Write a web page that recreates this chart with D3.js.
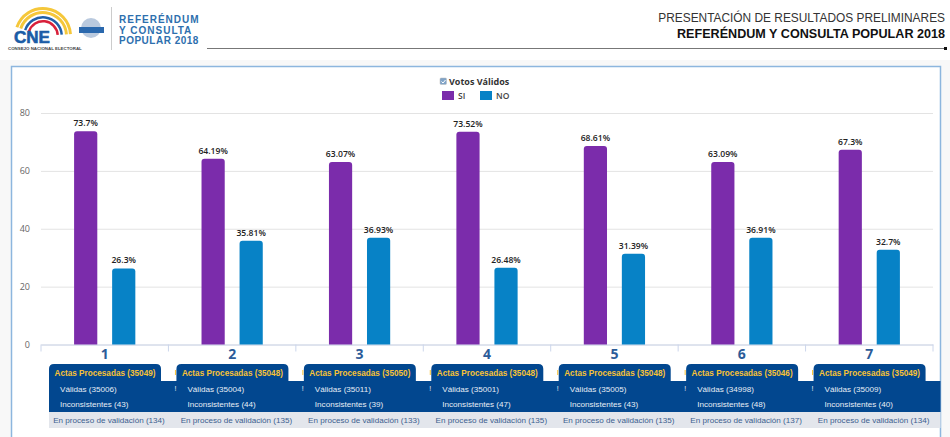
<!DOCTYPE html>
<html lang="es">
<head>
<meta charset="UTF-8">
<title>Referéndum y Consulta Popular 2018</title>
<script src="https://d3js.org/d3.v7.min.js"></script>
<style>
  html, body { margin: 0; padding: 0; background: #fff; }
  svg { display: block; font-family: "Open Sans", "DejaVu Sans", sans-serif; }
</style>
</head>
<body>
<svg width="950" height="437"></svg>
<script>
// data
var questions = ["1", "2", "3", "4", "5", "6", "7"];
var seriesNames = ["SI", "NO"];
var siValues = [73.7, 64.19, 63.07, 73.52, 68.61, 63.09, 67.3];
var noValues = [26.3, 35.81, 36.93, 26.48, 31.39, 36.91, 32.7];
var actasProcesadas = [35049, 35048, 35050, 35048, 35048, 35046, 35049];
var validas = [35006, 35004, 35011, 35001, 35005, 34998, 35009];
var inconsistentes = [43, 44, 39, 47, 43, 48, 40];
var enValidacion = [134, 135, 133, 135, 135, 137, 134];
var yTicks = [0, 20, 40, 60, 80];

var colors = { SI: "#7b2cab", NO: "#0782c6" };
var navy = "#02478f";

var svg = d3.select("svg");

// page background and panel
svg.append("rect").attr("x", 0).attr("y", 60).attr("width", 950).attr("height", 377).attr("fill", "#f8f8f8");
svg.append("rect").attr("x", 11).attr("y", 66).attr("width", 930).attr("height", 371).attr("fill", "#fff");
svg.append("path").attr("d", "M11.5,437V66.5H940.5V437").attr("fill", "none").attr("stroke", "#8db6de").attr("stroke-width", 1.5);

// header, right side
svg.append("text").attr("x", 945).attr("y", 22).attr("text-anchor", "end")
  .attr("font-family", "Liberation Sans, sans-serif").attr("font-size", 11.9).attr("fill", "#333")
  .text("PRESENTACIÓN DE RESULTADOS PRELIMINARES");
svg.append("text").attr("x", 945).attr("y", 38).attr("text-anchor", "end")
  .attr("font-family", "Liberation Sans, sans-serif").attr("font-size", 12.6).attr("font-weight", "bold").attr("fill", "#111")
  .text("REFERÉNDUM Y CONSULTA POPULAR 2018");
svg.append("line").attr("x1", 207).attr("x2", 946).attr("y1", 48.5).attr("y2", 48.5).attr("stroke", "#777").attr("stroke-width", 1);
svg.append("rect").attr("x", 944).attr("y", 47).attr("width", 3).attr("height", 3).attr("fill", "#111");

// header, logo
var logo = svg.append("g");
var arcGen = d3.arc().startAngle(-1.25).endAngle(1.5);
[[29, 3, "#f5c73a"], [25, 3, "#f5c73a"], [20, 2.5, "#1f5fa8"], [16, 2.5, "#d8203a"]].forEach(function(a) {
  logo.append("path")
    .attr("transform", "translate(43,36)")
    .attr("d", arcGen({ innerRadius: a[0] - a[1], outerRadius: a[0] }))
    .attr("fill", a[2]);
});
logo.append("text").attr("x", 14).attr("y", 43).attr("font-family", "Liberation Sans, sans-serif").attr("font-weight", "bold")
  .attr("font-size", 17).attr("fill", "#1a5ca6").attr("stroke", "#1a5ca6").attr("stroke-width", 0.6).text("CNE");
logo.append("text").attr("x", 8).attr("y", 50).attr("font-family", "Liberation Sans, sans-serif").attr("font-weight", "bold")
  .attr("font-size", 4.4).attr("fill", "#444").text("CONSEJO NACIONAL ELECTORAL");
logo.append("circle").attr("cx", 91).attr("cy", 28).attr("r", 10).attr("fill", "#b9c9de");
logo.append("rect").attr("x", 79).attr("y", 27).attr("width", 25).attr("height", 6).attr("fill", "#2a68ad");
logo.append("line").attr("x1", 111.5).attr("x2", 111.5).attr("y1", 7).attr("y2", 50).attr("stroke", "#ccc");
["REFERÉNDUM", "Y CONSULTA", "POPULAR 2018"].forEach(function(t, i) {
  logo.append("text").attr("x", 119).attr("y", 23 + i * 10.5)
    .attr("font-family", "Liberation Sans, sans-serif").attr("font-weight", "bold")
    .attr("font-size", 10).attr("letter-spacing", i == 2 ? 0.5 : 1).attr("fill", "#2d6fae").text(t);
});

// scales
var margin = { top: 113, left: 41, right: 17, bottom: 92.5 };
var x0 = d3.scaleBand().domain(questions).range([margin.left, 950 - margin.right]);
var x1 = d3.scaleBand().domain(seriesNames).range([0, x0.bandwidth()]).paddingInner(0.39).paddingOuter(0.87);
var y = d3.scaleLinear().domain([0, 80]).range([437 - margin.bottom, margin.top]);

// y axis with grid
var yAxis = svg.append("g").attr("transform", "translate(" + margin.left + ",0)")
  .call(d3.axisLeft(y).tickValues(yTicks).tickSize(-(950 - margin.left - margin.right)).tickPadding(11));
yAxis.select(".domain").remove();
yAxis.selectAll("line").attr("stroke", "#e3e3e3");
yAxis.selectAll("text").attr("font-size", 9).attr("fill", "#666").attr("font-family", "Open Sans, sans-serif");

// x axis
var xAxis = svg.append("g").attr("transform", "translate(0," + y(0) + ")")
  .call(d3.axisBottom(x0).tickSize(0).tickPadding(5));
xAxis.select(".domain").attr("stroke", "#ccd6eb");
xAxis.selectAll("text").attr("font-size", 14).attr("font-weight", "bold").attr("fill", "#2c5c99")
  .attr("font-family", "Open Sans, sans-serif");
var edges = questions.map(function(q) { return x0(q); }).concat([x0.range()[1]]);
xAxis.selectAll(".edge").data(edges).enter().append("line").attr("class", "edge")
  .attr("x1", function(d) { return d; }).attr("x2", function(d) { return d; })
  .attr("y1", 0).attr("y2", 7).attr("stroke", "#ccd6eb");

// bars
var groups = svg.selectAll(".q").data(questions).enter().append("g").attr("class", "q")
  .attr("transform", function(d) { return "translate(" + x0(d) + ",0)"; });

function seriesRows(i) {
  return [{ name: "SI", value: siValues[i] }, { name: "NO", value: noValues[i] }];
}

groups.selectAll("path").data(function(d, i) { return seriesRows(i); }).enter().append("path")
  .attr("d", function(d) {
    var l = x1(d.name), r = l + x1.bandwidth(), t = y(d.value), b = y(0), c = 3;
    return "M" + l + "," + b + "V" + (t + c) + "Q" + l + "," + t + " " + (l + c) + "," + t
      + "H" + (r - c) + "Q" + r + "," + t + " " + r + "," + (t + c) + "V" + b + "Z";
  })
  .attr("fill", function(d) { return colors[d.name]; });

groups.selectAll("text").data(function(d, i) { return seriesRows(i); }).enter().append("text")
  .attr("x", function(d) { return x1(d.name) + x1.bandwidth() / 2; })
  .attr("y", function(d) { return y(d.value) - 5; })
  .attr("text-anchor", "middle")
  .attr("font-size", 8.6).attr("font-weight", "600").attr("fill", "#222")
  .text(function(d) { return d.value + "%"; });

// legend
svg.append("rect").attr("x", 440).attr("y", 78).attr("width", 6.5).attr("height", 6.5).attr("rx", 1)
  .attr("fill", "#7fa3c7").attr("stroke", "#bbb").attr("stroke-width", 0.5);
svg.append("path").attr("d", "M441.5,81.5l1.5,1.5l2.5,-3").attr("fill", "none").attr("stroke", "#fff").attr("stroke-width", 1);
svg.append("text").attr("x", 449).attr("y", 85).attr("font-size", 9).attr("font-weight", "bold").attr("fill", "#333").text("Votos Válidos");
var legendX = { SI: 442, NO: 480 };
seriesNames.forEach(function(s) {
  svg.append("rect").attr("x", legendX[s]).attr("y", 91).attr("width", 12).attr("height", 9).attr("fill", colors[s]);
  svg.append("text").attr("x", legendX[s] + 16).attr("y", 99).attr("font-size", 8.5).attr("font-weight", "600").attr("fill", "#444").text(s);
});

// table under the chart
svg.append("rect").attr("x", 49).attr("y", 381).attr("width", 891.5).attr("height", 31).attr("fill", navy);
svg.append("rect").attr("x", 49).attr("y", 412).attr("width", 891.5).attr("height", 16).attr("fill", "#e3e6ec");

var cells = svg.selectAll(".cell").data(questions).enter().append("g").attr("class", "cell")
  .attr("transform", function(d) { return "translate(" + x0(d) + ",0)"; });

cells.append("path")
  .attr("d", "M8,382V369Q8,364 13,364H115Q120,364 120,369V382Z")
  .attr("fill", navy);
cells.append("text").attr("x", 64).attr("y", 375.8).attr("text-anchor", "middle")
  .attr("font-family", "Liberation Sans, sans-serif").attr("font-size", 8.2).attr("font-weight", "bold").attr("fill", "#f7c236")
  .text(function(d, i) { return "Actas Procesadas (" + actasProcesadas[i] + ")"; });
cells.append("text").attr("x", 19).attr("y", 391.5)
  .attr("font-family", "Liberation Sans, sans-serif").attr("font-size", 8.1).attr("fill", "#e6edf5")
  .text(function(d, i) { return "Válidas (" + validas[i] + ")"; });
cells.append("text").attr("x", 19).attr("y", 407)
  .attr("font-family", "Liberation Sans, sans-serif").attr("font-size", 8.1).attr("fill", "#e6edf5")
  .text(function(d, i) { return "Inconsistentes (" + inconsistentes[i] + ")"; });
cells.append("text").attr("x", 68).attr("y", 423).attr("text-anchor", "middle")
  .attr("font-family", "Liberation Sans, sans-serif").attr("font-size", 8.1).attr("fill", "#3d5f8f")
  .text(function(d, i) { return "En proceso de validación (" + enValidacion[i] + ")"; });

// small separators left over between the cells
cells.filter(function(d, i) { return i > 0; }).append("text").attr("x", 7).attr("y", 391).attr("text-anchor", "middle")
  .attr("font-family", "Liberation Sans, sans-serif").attr("font-size", 7).attr("fill", "#e6edf5").text("!");
cells.filter(function(d, i) { return i > 0; }).append("rect").attr("x", 6.5).attr("y", 370).attr("width", 1).attr("height", 5).attr("fill", "#f7c236");
</script>
</body>
</html>
